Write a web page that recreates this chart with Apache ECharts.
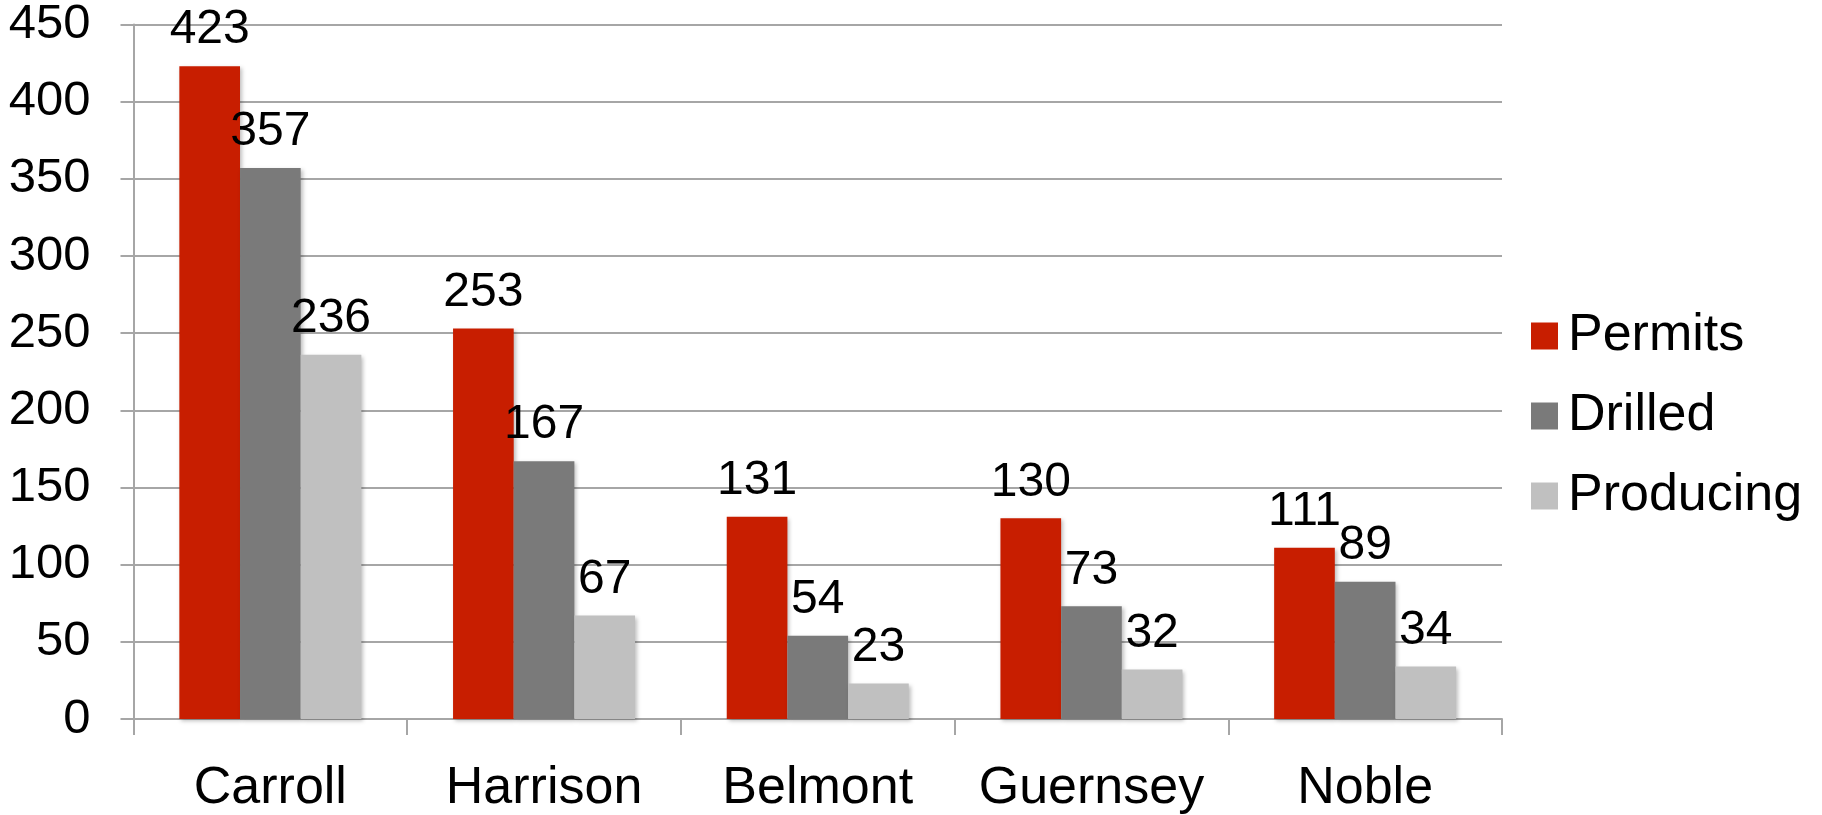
<!DOCTYPE html>
<html><head><meta charset="utf-8">
<script src="https://cdn.jsdelivr.net/npm/echarts@6/dist/echarts.min.js"></script>
<style>html,body{margin:0;padding:0;background:#fff}#c{width:1822px;height:815px}</style>
</head><body><div id="c"></div>
<script>
const categories = ['Carroll', 'Harrison', 'Belmont', 'Guernsey', 'Noble'];
const permits = [423, 253, 131, 130, 111];
const drilled = [357, 167, 54, 73, 89];
const producing = [236, 67, 23, 32, 34];
const yTicks = [0, 50, 100, 150, 200, 250, 300, 350, 400, 450];

const FONT = '"Liberation Sans", Arial, sans-serif';
const lineColor = '#A6A6A6';
const shadow = {shadowColor: 'rgba(0,0,0,0.25)', shadowBlur: 4, shadowOffsetX: 2, shadowOffsetY: 2};
function mk(name, data, color) {
  return {
    name, type: 'bar', data, barGap: '0%', barCategoryGap: '33.5%',
    itemStyle: Object.assign({color}, shadow),
    label: {show: true, position: 'top', distance: 12, color: '#000', fontSize: 48, fontFamily: FONT},
    emphasis: {disabled: true}
  };
}
const chart = echarts.init(document.getElementById('c'));
chart.setOption({
  animation: false,
  grid: {left: 133.5, right: 320, top: 24, bottom: 95, containLabel: false},
  legend: {
    orient: 'vertical', left: 1526, top: 305,
    icon: 'rect', itemWidth: 27, itemHeight: 27, itemGap: 28,
    textStyle: {fontSize: 52, fontFamily: FONT, color: '#000', padding: [0, 0, 0, 5], lineHeight: 52},
    data: ['Permits', 'Drilled', 'Producing']
  },
  xAxis: {
    type: 'category', data: categories,
    axisLine: {lineStyle: {color: lineColor, width: 2}},
    axisTick: {show: true, interval: 0, length: 16, lineStyle: {color: lineColor, width: 2}},
    axisLabel: {interval: 0, hideOverlap: false, fontSize: 52, fontFamily: FONT, color: '#000', margin: 44}
  },
  yAxis: {
    type: 'value', min: yTicks[0], max: yTicks[yTicks.length - 1], interval: 50,
    axisLine: {show: true, lineStyle: {color: lineColor, width: 2}},
    axisTick: {show: true, length: 13, lineStyle: {color: lineColor, width: 2}},
    splitLine: {lineStyle: {color: lineColor, width: 2}},
    axisLabel: {fontSize: 49, fontFamily: FONT, color: '#000', margin: 43, padding: [7, 0, 0, 0]}
  },
  series: [
    mk('Permits', permits, '#C81E00'),
    mk('Drilled', drilled, '#7A7A7A'),
    mk('Producing', producing, '#C0C0C0')
  ]
});
</script></body></html>
